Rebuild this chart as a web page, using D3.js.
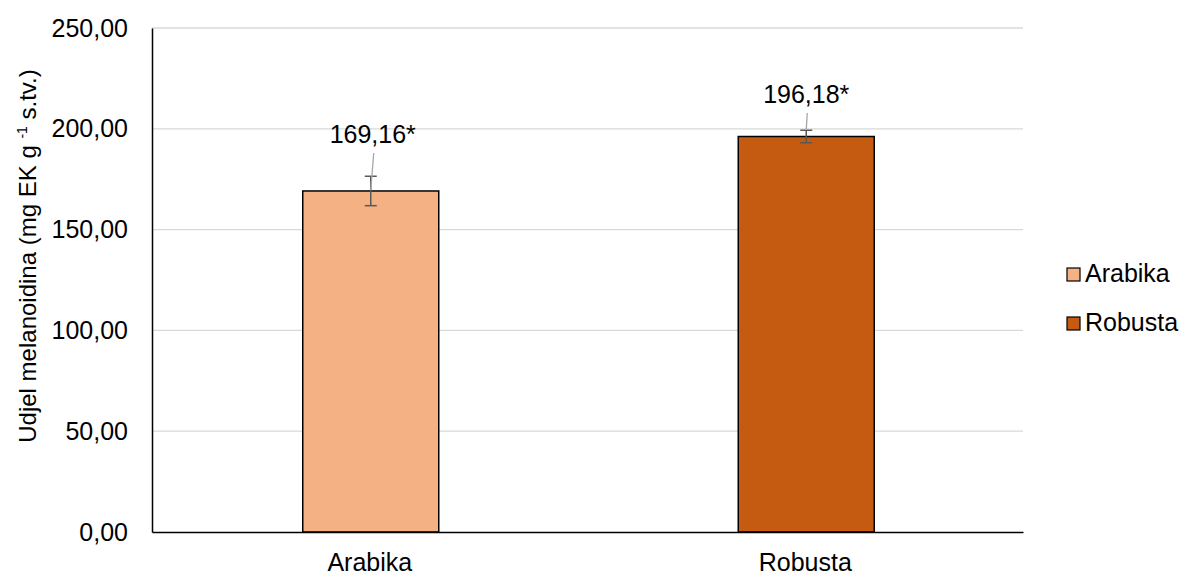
<!DOCTYPE html>
<html><head><meta charset="utf-8">
<script src="https://cdn.jsdelivr.net/npm/d3@7"></script>
<style>body{margin:0;background:#fff}svg{font-family:"Liberation Sans",Arial,sans-serif}</style>
</head><body><svg id="c" width="1185" height="575"></svg>
<script>
const categories = ["Arabika", "Robusta"];
const values = [169.16, 196.18];
const errors = [7.3, 3.1];
const labels = ["169,16*", "196,18*"];
const colors = ["#F4B183", "#C55A11"];
const yTicks = [0, 50, 100, 150, 200, 250];

const FS = 25;
const svg = d3.select("#c");
const m = {l:152, r:1023, t:28, b:532};
const x = d3.scaleBand().domain(categories).range([m.l, m.r]).paddingInner(0).paddingOuter(0);
const y = d3.scaleLinear().domain([0, 250]).range([m.b, m.t]);
const fmt = v => d3.format(".2f")(v).replace(".", ",");
const bw = 136;

// gridlines
svg.append("g").selectAll("line").data(yTicks.filter(d=>d>0)).join("line")
  .attr("x1", m.l).attr("x2", m.r).attr("y1", d=>y(d)).attr("y2", d=>y(d))
  .attr("stroke", "#d9d9d9").attr("stroke-width", 1.3);

// y axis
const ya = svg.append("g").attr("transform", `translate(${m.l},0)`)
  .call(d3.axisLeft(y).tickValues(yTicks).tickFormat(fmt).tickSize(0).tickPadding(24));
ya.select(".domain").attr("stroke", "#000").attr("stroke-width", 1.5);
ya.selectAll("text").attr("font-size", FS).attr("fill", "#000").attr("font-family", "Liberation Sans, Arial, sans-serif");

// bars
svg.append("g").selectAll("rect").data(categories).join("rect")
  .attr("x", d => x(d) + x.bandwidth()/2 - bw/2 + 1)
  .attr("y", (d,i) => y(values[i]))
  .attr("width", bw).attr("height", (d,i) => y(0) - y(values[i]))
  .attr("fill", (d,i) => colors[i]).attr("stroke", "#000").attr("stroke-width", 1.5);

// x axis
const xa = svg.append("g").attr("transform", `translate(0,${m.b})`)
  .call(d3.axisBottom(x).tickSize(0).tickPadding(21));
xa.select(".domain").attr("stroke", "#000").attr("stroke-width", 1.5);
xa.selectAll("text").attr("font-size", FS).attr("fill", "#000").attr("font-family", "Liberation Sans, Arial, sans-serif");

// error bars
const eg = svg.append("g");
categories.forEach((c, i) => {
  const cx = x(c) + x.bandwidth()/2 + 1;
  const y1 = y(values[i] + errors[i]), y2 = y(values[i] - errors[i]);
  eg.append("line").attr("x1", cx).attr("x2", cx).attr("y1", y1).attr("y2", y2).attr("stroke", "#595959").attr("stroke-width", 1.5);
  [y1, y2].forEach(yy => eg.append("line").attr("x1", cx-6).attr("x2", cx+6).attr("y1", yy).attr("y2", yy).attr("stroke", "#595959").attr("stroke-width", 1.5));
});

// data labels with leader lines
const labelPos = [{dx: 2, y: 143, ly1: 153, ly2: 190}, {dx: 0, y: 103, ly1: 113, ly2: 130}];
categories.forEach((c, i) => {
  const cx = x(c) + x.bandwidth()/2 + 1;
  const p = labelPos[i];
  svg.append("line").attr("x1", cx + p.dx + 1).attr("y1", p.ly1).attr("x2", cx).attr("y2", p.ly2)
    .attr("stroke", "#a6a6a6").attr("stroke-width", 1.3);
  svg.append("text").attr("x", cx + p.dx).attr("y", p.y).attr("text-anchor", "middle")
    .attr("font-size", FS).attr("fill", "#000").text(labels[i]);
});

// y title
const yt = svg.append("text").attr("transform", "translate(36,256) rotate(-90)")
  .attr("text-anchor", "middle").attr("font-size", 24).attr("fill", "#000");
yt.append("tspan").text("Udjel melanoidina (mg EK g ");
yt.append("tspan").attr("font-size", 14).attr("dy", -9).text("-1");
yt.append("tspan").attr("dy", 9).text(" s.tv.)");

// legend
const lg = svg.append("g");
categories.forEach((c, i) => {
  const yy = 268 + i * 49;
  lg.append("rect").attr("x", 1067).attr("y", yy).attr("width", 13).attr("height", 13)
    .attr("fill", colors[i]).attr("stroke", "#000").attr("stroke-width", 1.2);
  lg.append("text").attr("x", 1085).attr("y", yy + 14).attr("font-size", FS).attr("fill", "#000").text(c);
});
</script></body></html>
